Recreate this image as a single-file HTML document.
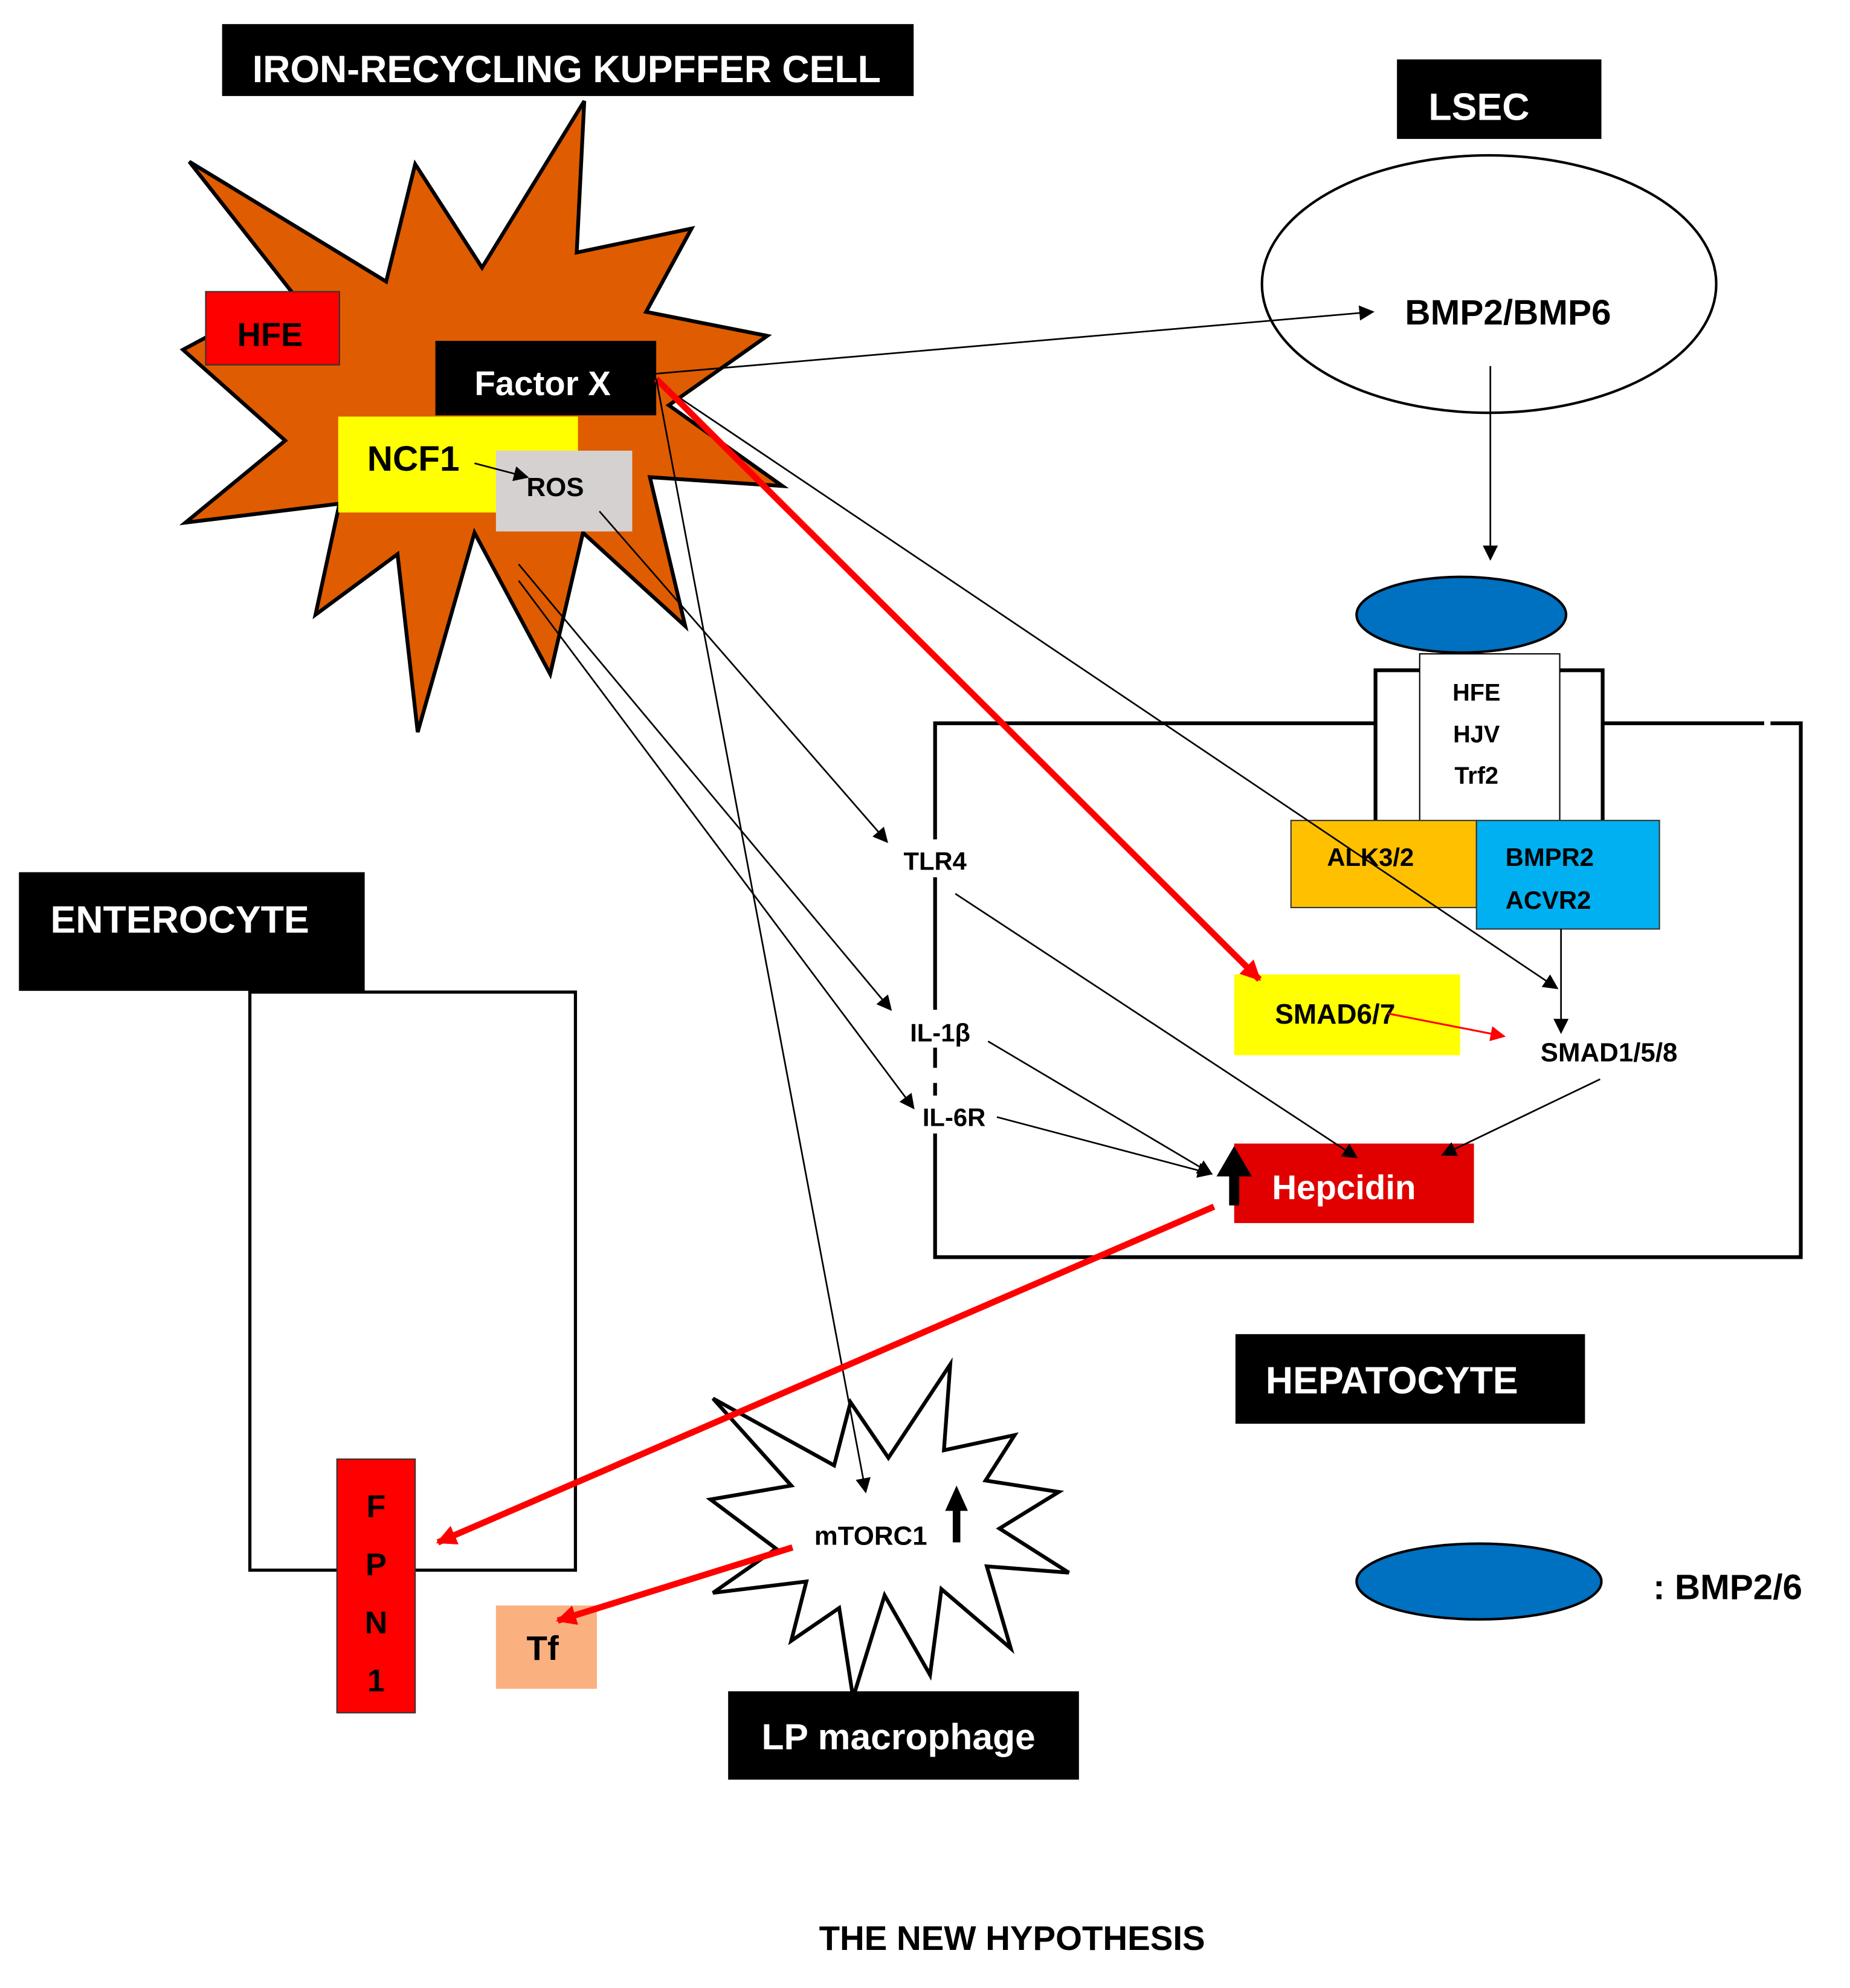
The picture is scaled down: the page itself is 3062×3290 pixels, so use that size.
<!DOCTYPE html>
<html><head><meta charset="utf-8"><style>
html,body{margin:0;padding:0;background:#fff;}
svg{display:block;}
text{font-family:"Liberation Sans",sans-serif;font-weight:bold;}
</style></head><body>
<svg width="3062" height="3290" viewBox="0 0 1466 1575" xmlns="http://www.w3.org/2000/svg">
<defs>
<marker id="a" viewBox="0 0 10 10" refX="9" refY="5" markerWidth="16" markerHeight="12" markerUnits="userSpaceOnUse" orient="auto"><path d="M0,0L10,5L0,10z" fill="#000"/></marker>
<marker id="r" viewBox="0 0 10 10" refX="9" refY="5" markerWidth="20" markerHeight="16" markerUnits="userSpaceOnUse" orient="auto"><path d="M0,0L10,5L0,10z" fill="#f00"/></marker>
<marker id="rs" viewBox="0 0 10 10" refX="9" refY="5" markerWidth="16" markerHeight="12" markerUnits="userSpaceOnUse" orient="auto"><path d="M0,0L10,5L0,10z" fill="#f00"/></marker>
</defs>
<rect width="1466" height="1575" fill="#fff"/>

<rect x="176" y="19" width="548" height="57" fill="#000"/>
<text x="449" y="65" font-size="30" fill="#fff" text-anchor="middle" textLength="498" lengthAdjust="spacingAndGlyphs">IRON-RECYCLING KUPFFER CELL</text>

<polygon points="150,128 306,223 329,130 382,212 463,80 457,200 548,181 512,247 608,266 530,321 620,385 515,378 543,496 462,422 436,534 376,422 331,580 315,439 250,487 269,399 147,414 226,349 145,277 231,231" fill="#e05c00" stroke="#000" stroke-width="3"/>
<rect x="163" y="231" width="106" height="58" fill="#f00" stroke="#333" stroke-width="1"/>
<text x="214" y="274" font-size="26" text-anchor="middle">HFE</text>
<rect x="345" y="270" width="175" height="59" fill="#000"/>
<text x="430" y="313" font-size="27" fill="#fff" text-anchor="middle">Factor X</text>
<rect x="268" y="330" width="190" height="76" fill="#ff0"/>
<text x="291" y="373" font-size="28">NCF1</text>
<rect x="393" y="357" width="108" height="64" fill="#d5d1d1"/>
<text x="440" y="393" font-size="21" text-anchor="middle">ROS</text>
<line x1="376" y1="367" x2="418" y2="378" stroke="#000" stroke-width="1.3" marker-end="url(#a)"/>

<rect x="1107" y="47" width="162" height="63" fill="#000"/>
<text x="1132" y="95" font-size="30" fill="#fff">LSEC</text>
<ellipse cx="1180" cy="225" rx="180" ry="102" fill="none" stroke="#000" stroke-width="2"/>
<text x="1195" y="257" font-size="28" text-anchor="middle">BMP2/BMP6</text>
<line x1="520" y1="296" x2="1088" y2="247" stroke="#000" stroke-width="1.3" marker-end="url(#a)"/>
<line x1="1181" y1="290" x2="1181" y2="443" stroke="#000" stroke-width="1.3" marker-end="url(#a)"/>

<rect x="741" y="573" width="686" height="423" fill="none" stroke="#000" stroke-width="3"/>
<rect x="1398" y="569" width="5" height="8" fill="#fff"/>
<rect x="736" y="665" width="10" height="30" fill="#fff"/>
<rect x="736" y="800" width="10" height="30" fill="#fff"/>
<rect x="736" y="846" width="10" height="12" fill="#fff"/>
<rect x="736" y="868" width="10" height="30" fill="#fff"/>
<ellipse cx="1158" cy="487" rx="83" ry="30" fill="#0070c0" stroke="#000" stroke-width="2"/>
<rect x="1090" y="531" width="180" height="130" fill="#fff" stroke="#000" stroke-width="3"/>
<rect x="1125" y="518" width="111" height="140" fill="#fff" stroke="#000" stroke-width="1"/>
<text x="1170" y="555" font-size="19" text-anchor="middle">HFE</text>
<text x="1170" y="588" font-size="19" text-anchor="middle">HJV</text>
<text x="1170" y="621" font-size="19" text-anchor="middle">Trf2</text>
<rect x="1023" y="650" width="147" height="69" fill="#ffc000" stroke="#333" stroke-width="1"/>
<text x="1086" y="686" font-size="20" text-anchor="middle">ALK3/2</text>
<rect x="1170" y="650" width="145" height="86" fill="#00b0f0" stroke="#333" stroke-width="1"/>
<text x="1193" y="686" font-size="20">BMPR2</text>
<text x="1193" y="720" font-size="20">ACVR2</text>
<line x1="1237" y1="736" x2="1237" y2="818" stroke="#000" stroke-width="1.3" marker-end="url(#a)"/>
<text x="1275" y="841" font-size="21" text-anchor="middle">SMAD1/5/8</text>
<rect x="978" y="772" width="179" height="64" fill="#ff0"/>
<text x="1058" y="811" font-size="22" text-anchor="middle">SMAD6/7</text>
<line x1="1100" y1="803" x2="1192" y2="821" stroke="#f00" stroke-width="1.5" marker-end="url(#rs)"/>
<rect x="978" y="906" width="190" height="63" fill="#e00000"/>
<text x="1065" y="950" font-size="27" fill="#fff" text-anchor="middle">Hepcidin</text>
<polygon points="974,955 982,955 982,932 992,932 978,908 964,932 974,932" fill="#000"/>
<text x="741" y="689" font-size="20" text-anchor="middle">TLR4</text>
<text x="745" y="825" font-size="20" text-anchor="middle">IL-1β</text>
<text x="756" y="892" font-size="20" text-anchor="middle">IL-6R</text>

<line x1="475" y1="405" x2="703" y2="667" stroke="#000" stroke-width="1.3" marker-end="url(#a)"/>
<line x1="411" y1="447" x2="706" y2="800" stroke="#000" stroke-width="1.3" marker-end="url(#a)"/>
<line x1="411" y1="460" x2="724" y2="878" stroke="#000" stroke-width="1.3" marker-end="url(#a)"/>
<line x1="522" y1="304" x2="1234" y2="783" stroke="#000" stroke-width="1.3" marker-end="url(#a)"/>
<line x1="757" y1="708" x2="1075" y2="917" stroke="#000" stroke-width="1.3" marker-end="url(#a)"/>
<line x1="783" y1="825" x2="960" y2="930" stroke="#000" stroke-width="1.3" marker-end="url(#a)"/>
<line x1="790" y1="885" x2="960" y2="930" stroke="#000" stroke-width="1.3" marker-end="url(#a)"/>
<line x1="1268" y1="855" x2="1143" y2="915" stroke="#000" stroke-width="1.3" marker-end="url(#a)"/>
<line x1="520" y1="300" x2="998" y2="776" stroke="#f00" stroke-width="5" marker-end="url(#r)"/>

<rect x="15" y="691" width="274" height="94" fill="#000"/>
<text x="40" y="739" font-size="30" fill="#fff">ENTEROCYTE</text>
<rect x="198" y="786" width="258" height="458" fill="none" stroke="#000" stroke-width="2.5"/>
<rect x="267" y="1156" width="62" height="201" fill="#f00" stroke="#333" stroke-width="1"/>
<text x="298" y="1202" font-size="25" text-anchor="middle">F</text>
<text x="298" y="1248" font-size="25" text-anchor="middle">P</text>
<text x="298" y="1294" font-size="25" text-anchor="middle">N</text>
<text x="298" y="1340" font-size="25" text-anchor="middle">1</text>
<rect x="393" y="1272" width="80" height="66" fill="#fbb080"/>
<text x="430" y="1315" font-size="27" text-anchor="middle">Tf</text>

<polygon points="565,1108 627,1177 563,1188 615,1227 565,1262 639,1253 627,1300 665,1274 676,1345 701,1264 737,1327 746,1259 801,1306 782,1241 847,1246 792,1211 839,1182 781,1173 804,1137 748,1149 753,1081 704,1155 674,1111 661,1161" fill="#fff" stroke="#000" stroke-width="3"/>
<line x1="520" y1="300" x2="686" y2="1182" stroke="#000" stroke-width="1.3" marker-end="url(#a)"/>
<text x="690" y="1224" font-size="21" text-anchor="middle">mTORC1</text>
<polygon points="755,1222 761,1222 761,1197 767,1197 758,1177 749,1197 755,1197" fill="#000"/>
<line x1="962" y1="956" x2="347" y2="1222" stroke="#f00" stroke-width="5" marker-end="url(#r)"/>
<line x1="628" y1="1226" x2="442" y2="1284" stroke="#f00" stroke-width="5" marker-end="url(#r)"/>
<rect x="577" y="1340" width="278" height="70" fill="#000"/>
<text x="712" y="1386" font-size="29" fill="#fff" text-anchor="middle">LP macrophage</text>

<rect x="979" y="1057" width="277" height="71" fill="#000"/>
<text x="1103" y="1104" font-size="30" fill="#fff" text-anchor="middle">HEPATOCYTE</text>
<ellipse cx="1172" cy="1253" rx="97" ry="30" fill="#0070c0" stroke="#000" stroke-width="2"/>
<text x="1310" y="1267" font-size="28">: BMP2/6</text>

<text x="802" y="1545" font-size="27" text-anchor="middle">THE NEW HYPOTHESIS</text>
</svg>
</body></html>
